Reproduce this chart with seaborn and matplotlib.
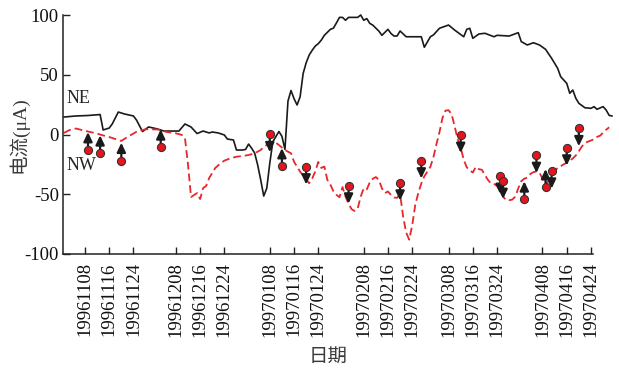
import matplotlib
matplotlib.use("Agg")
import matplotlib.pyplot as plt
import matplotlib.dates as mdates
import pandas as pd
import seaborn as sns

# NE channel current (µA)
ne_dates = [
    "1996-11-01", "1996-11-05", "1996-11-09", "1996-11-13", "1996-11-14", "1996-11-16",
    "1996-11-17", "1996-11-19", "1996-11-21", "1996-11-24", "1996-11-25", "1996-11-27",
    "1996-11-29", "1996-12-02", "1996-12-04", "1996-12-09", "1996-12-11", "1996-12-13",
    "1996-12-15", "1996-12-17", "1996-12-19", "1996-12-20", "1996-12-22", "1996-12-24",
    "1996-12-25", "1996-12-27", "1996-12-28", "1996-12-30", "1996-12-31", "1997-01-01",
    "1997-01-02", "1997-01-03", "1997-01-04", "1997-01-05", "1997-01-06", "1997-01-07",
    "1997-01-08", "1997-01-09", "1997-01-10", "1997-01-11", "1997-01-12", "1997-01-13",
    "1997-01-14", "1997-01-15", "1997-01-16", "1997-01-17", "1997-01-18", "1997-01-19",
    "1997-01-20", "1997-01-21", "1997-01-22", "1997-01-23", "1997-01-24", "1997-01-25",
    "1997-01-26", "1997-01-27", "1997-01-28", "1997-01-29", "1997-01-30", "1997-01-31",
    "1997-02-01", "1997-02-02", "1997-02-03", "1997-02-04", "1997-02-05", "1997-02-06",
    "1997-02-07", "1997-02-08", "1997-02-09", "1997-02-10", "1997-02-11", "1997-02-12",
    "1997-02-13", "1997-02-14", "1997-02-16", "1997-02-17", "1997-02-18", "1997-02-19",
    "1997-02-20", "1997-02-22", "1997-02-27", "1997-02-28", "1997-03-02", "1997-03-03",
    "1997-03-05", "1997-03-08", "1997-03-10", "1997-03-13", "1997-03-14", "1997-03-15",
    "1997-03-16", "1997-03-18", "1997-03-20", "1997-03-23", "1997-03-24", "1997-03-28",
    "1997-03-31", "1997-04-01", "1997-04-03", "1997-04-05", "1997-04-07", "1997-04-09",
    "1997-04-11", "1997-04-13", "1997-04-14", "1997-04-16", "1997-04-17", "1997-04-18",
    "1997-04-19", "1997-04-20", "1997-04-22", "1997-04-24", "1997-04-25", "1997-04-26",
    "1997-04-28", "1997-04-29", "1997-04-30", "1997-05-01",
]
ne_values = [
    14.6, 15.5, 15.9, 16.7, 3.8, 5.4,
    8.8, 18.8, 17.2, 15.5, 12.1, 2.5,
    6.3, 4.6, 2.9, 2.9, 8.8, 6.3,
    0.8, 2.9, 1.3, 2.1, 1.3, -0.4,
    -3.8, -4.6, -13.0, -13.0, -12.5, -8.0,
    -11.5, -15.5, -25.5, -38.0, -51.5, -45.0,
    -24.0, -6.0, -1.8, 2.5, -1.5, -12.5,
    28.0, 36.8, 30.0, 24.7, 31.5, 51.0,
    60.0, 66.5, 70.5, 74.0, 76.0, 79.0,
    83.0, 85.5, 88.0, 89.0, 93.4, 98.0,
    98.0, 95.6, 98.0, 98.0, 98.0, 98.0,
    100.0, 95.6, 97.0, 93.0, 91.5, 89.0,
    86.5, 83.0, 88.0, 84.5, 82.4, 82.4,
    86.6, 81.8, 81.8, 73.0, 81.8, 83.3,
    88.9, 91.6, 87.4, 81.8, 88.0, 88.9,
    80.5, 84.1, 84.7, 81.8, 83.0, 82.4,
    85.2, 77.7, 74.9, 76.8, 74.9, 71.3,
    63.8, 55.4, 48.4, 42.8, 34.5, 37.2,
    30.3, 26.1, 22.4, 21.9, 23.3, 21.1,
    23.3, 20.5, 16.0, 15.5,
]

# NW channel current (µA)
nw_dates = [
    "1996-11-01", "1996-11-03", "1996-11-05", "1996-11-09", "1996-11-12", "1996-11-14",
    "1996-11-16", "1996-11-20", "1996-11-22", "1996-11-25", "1996-11-28", "1996-12-02",
    "1996-12-05", "1996-12-08", "1996-12-10", "1996-12-11", "1996-12-12", "1996-12-13",
    "1996-12-14", "1996-12-15", "1996-12-16", "1996-12-17", "1996-12-18", "1996-12-19",
    "1996-12-21", "1996-12-23", "1996-12-24", "1996-12-26", "1996-12-28", "1996-12-30",
    "1997-01-01", "1997-01-03", "1997-01-05", "1997-01-06", "1997-01-08", "1997-01-10",
    "1997-01-11", "1997-01-13", "1997-01-15", "1997-01-16", "1997-01-18", "1997-01-20",
    "1997-01-21", "1997-01-22", "1997-01-23", "1997-01-24", "1997-01-25", "1997-01-26",
    "1997-01-27", "1997-01-28", "1997-01-29", "1997-01-30", "1997-01-31", "1997-02-01",
    "1997-02-02", "1997-02-03", "1997-02-04", "1997-02-05", "1997-02-06", "1997-02-07",
    "1997-02-08", "1997-02-09", "1997-02-10", "1997-02-11", "1997-02-12", "1997-02-13",
    "1997-02-14", "1997-02-15", "1997-02-16", "1997-02-17", "1997-02-18", "1997-02-19",
    "1997-02-20", "1997-02-21", "1997-02-22", "1997-02-23", "1997-02-24", "1997-02-25",
    "1997-02-26", "1997-02-27", "1997-02-28", "1997-03-01", "1997-03-02", "1997-03-03",
    "1997-03-04", "1997-03-05", "1997-03-06", "1997-03-07", "1997-03-08", "1997-03-09",
    "1997-03-10", "1997-03-11", "1997-03-12", "1997-03-13", "1997-03-14", "1997-03-15",
    "1997-03-16", "1997-03-17", "1997-03-18", "1997-03-19", "1997-03-20", "1997-03-21",
    "1997-03-22", "1997-03-23", "1997-03-24", "1997-03-25", "1997-03-26", "1997-03-27",
    "1997-03-28", "1997-03-29", "1997-03-30", "1997-03-31", "1997-04-01", "1997-04-02",
    "1997-04-03", "1997-04-04", "1997-04-05", "1997-04-06", "1997-04-07", "1997-04-08",
    "1997-04-09", "1997-04-10", "1997-04-11", "1997-04-12", "1997-04-13", "1997-04-14",
    "1997-04-15", "1997-04-16", "1997-04-17", "1997-04-18", "1997-04-19", "1997-04-20",
    "1997-04-21", "1997-04-22", "1997-04-23", "1997-04-24", "1997-04-25", "1997-04-26",
    "1997-04-27", "1997-04-28", "1997-04-29", "1997-04-30",
]
nw_values = [
    1.3, 3.8, 5.0, 2.5, 0.8, -0.8,
    -2.1, -5.4, -2.1, 2.3, 4.4, 4.2,
    2.1, 1.0, -0.4, -3.0, -25.0, -52.3,
    -50.6, -49.0, -54.0, -44.8, -43.0, -36.4,
    -28.0, -23.6, -21.9, -19.9, -18.6, -18.0,
    -17.2, -15.7, -13.0, -10.2, -7.4, -6.9,
    -8.8, -13.0, -15.7, -22.8, -31.1, -37.5,
    -40.8, -36.7, -31.0, -23.0, -28.0, -26.8,
    -38.0, -42.0, -47.5, -50.5, -52.5, -44.0,
    -52.0, -58.0, -62.5, -64.0, -62.0, -52.0,
    -45.0, -46.0, -40.0, -37.0, -35.6, -38.0,
    -45.0, -49.0, -47.7, -50.6, -52.7, -53.0,
    -50.0, -68.6, -82.0, -88.0, -76.0, -59.0,
    -49.0, -41.0, -35.0, -31.0, -27.0, -19.0,
    -8.0, 2.0, 14.0, 20.0, 20.3, 17.0,
    7.0, -4.0, -11.0, -21.0, -27.5, -30.0,
    -31.8, -27.0, -29.0, -29.5, -34.0, -38.0,
    -41.0, -41.5, -43.0, -47.0, -52.0, -55.0,
    -55.0, -54.5, -52.0, -45.0, -39.0, -37.0,
    -36.0, -33.0, -31.5, -31.0, -32.0, -37.0,
    -41.0, -39.0, -35.0, -30.5, -28.0, -26.5,
    -25.0, -23.5, -22.0, -20.0, -17.5, -14.0,
    -10.0, -7.0, -6.0, -5.0, -4.0, -2.0,
    -1.0, 1.5, 4.0, 6.0,
]

# Marked events: date, current and arrow direction
event_dates = [
    "1996-11-09", "1996-11-13", "1996-11-20", "1996-12-03", "1997-01-08",
    "1997-01-12", "1997-01-20", "1997-02-03", "1997-02-20", "1997-02-27",
    "1997-03-12", "1997-03-25", "1997-03-26", "1997-04-02", "1997-04-06",
    "1997-04-09", "1997-04-11", "1997-04-16", "1997-04-20",
]
event_values = [
    -13.0, -15.7, -21.9, -10.7, 0.2,
    -26.4, -26.8, -42.8, -40.3, -21.8,
    -0.4, -34.7, -38.9, -54.2, -17.2,
    -43.9, -30.3, -11.0, 5.2,
]
event_dirs = [
    "up", "up", "up", "up", "down",
    "up", "down", "down", "down", "down",
    "down", "down", "down", "up", "down",
    "up", "down", "down", "down",
]

tick_dates = [
    "1996-11-08", "1996-11-16", "1996-11-24", "1996-12-08", "1996-12-16", "1996-12-24",
    "1997-01-08", "1997-01-16", "1997-01-24", "1997-02-08", "1997-02-16", "1997-02-24",
    "1997-03-08", "1997-03-16", "1997-03-24", "1997-04-08", "1997-04-16", "1997-04-24",
]
ytick_values = [-100, -50, 0, 50, 100]

sns.set_style("ticks")
plt.rcParams["font.family"] = ["Liberation Serif", "Noto Sans CJK SC"]
plt.rcParams["axes.unicode_minus"] = False

ne = pd.DataFrame({"date": pd.to_datetime(ne_dates), "current": ne_values})
nw = pd.DataFrame({"date": pd.to_datetime(nw_dates), "current": nw_values})
ev = pd.DataFrame({"date": pd.to_datetime(event_dates), "current": event_values,
                   "dir": event_dirs})

W, H = 619, 373
fig = plt.figure(figsize=(W / 100, H / 100), dpi=100)
ax = fig.add_axes([63 / W, 119 / H, 530 / W, 239 / H])

sns.lineplot(data=ne, x="date", y="current", color="#1a1a1a", lw=1.2, ax=ax)
sns.lineplot(data=nw, x="date", y="current", color="#e8262b", lw=1.3,
             linestyle=(0, (4.3, 2.2)), ax=ax)
for line in ax.lines:
    line.set_clip_on(False)

# arrows from each event marker
arrow_len = 15
for d, v, direction in zip(ev["date"], ev["current"], ev["dir"]):
    x = mdates.date2num(d)
    tip = v + arrow_len if direction == "up" else v - arrow_len
    ax.annotate("", xy=(x, tip), xytext=(x, v), annotation_clip=False,
                arrowprops=dict(arrowstyle="-|>,head_length=0.55,head_width=0.26",
                                color="#1a1a1a", lw=1.6, shrinkA=0, shrinkB=0),
                zorder=4)

sns.scatterplot(data=ev, x="date", y="current", s=34, color="#e8141c",
                edgecolor="#333333", linewidth=0.8, zorder=5, ax=ax, clip_on=False)

ax.text(pd.Timestamp("1996-11-02"), 30, "NE", fontsize=13, ha="left", va="center")
ax.text(pd.Timestamp("1996-11-02"), -26, "NW", fontsize=13, ha="left", va="center")

ax.set_xlim(pd.Timestamp("1996-10-31 18:00"), pd.Timestamp("1997-04-24 16:00"))
ax.set_ylim(-100, 100)
ax.set_xticks(pd.to_datetime(tick_dates))
ax.xaxis.set_major_formatter(mdates.DateFormatter("%Y%m%d"))
ax.set_yticks(ytick_values)
ax.set_yticklabels([str(v) for v in ytick_values])

ax.tick_params(axis="both", direction="in", length=5, width=1.0, color="#222222",
               labelsize=13.5, labelcolor="#111111")
ax.tick_params(axis="x", rotation=90, pad=6)
ax.tick_params(axis="y", pad=3)

for side in ("top", "right"):
    ax.spines[side].set_visible(False)
for side in ("left", "bottom"):
    ax.spines[side].set_linewidth(1.1)
    ax.spines[side].set_color("#222222")

ax.set_xlabel("日期", fontsize=14, color="#3a3a3a")
ax.set_ylabel("电流(μA)", fontsize=14, color="#3a3a3a")
ax.xaxis.label.set_va("center")
ax.yaxis.label.set_va("center")
ax.xaxis.set_label_coords(0.5, (16 / H - 119 / H) / (239 / H))
ax.yaxis.set_label_coords((18 - 63) / 530, 0.5)

fig.savefig("out.png", dpi=100)
